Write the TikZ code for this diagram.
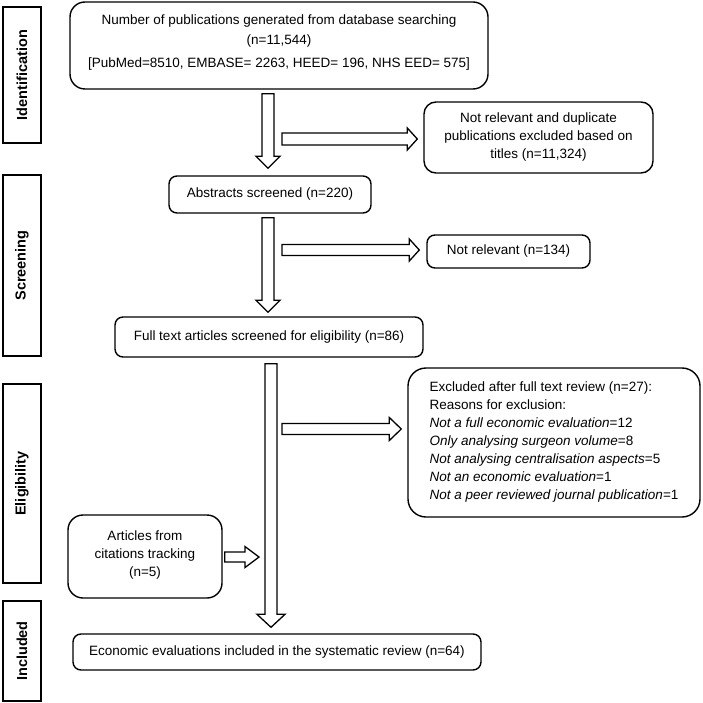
\documentclass[tikz,border=0pt]{standalone}
\usepackage{fontspec}
\setmainfont{Liberation Sans}
\usetikzlibrary{calc}
\tikzset{
  box/.style={draw, line width=1.4pt, rounded corners=8pt, align=center,
    font=\fontsize{13.5}{18}\selectfont, inner sep=0pt},
  stagebox/.style={draw, line width=1.5pt, rotate=90, inner sep=0pt,
    font=\fontsize{14.5}{18}\selectfont\bfseries, minimum height=38pt},
  blk/.style={draw, line width=1.3pt, fill=white, line join=miter},
}
% block arrow downwards: start, tip, shaft half width, head half width, head length
\newcommand\blkdown[5]{%
  \draw[blk] ($(#1)+(-#3,0)$) -- ($(#2)+(-#3,-#5)$) -- ($(#2)+(-#4,-#5)$) -- (#2)
    -- ($(#2)+(#4,-#5)$) -- ($(#2)+(#3,-#5)$) -- ($(#1)+(#3,0)$) -- cycle;}
% block arrow to the right
\newcommand\blkright[5]{%
  \draw[blk] ($(#1)+(0,-#3)$) -- ($(#2)+(-#5,-#3)$) -- ($(#2)+(-#5,-#4)$) -- (#2)
    -- ($(#2)+(-#5,#4)$) -- ($(#2)+(-#5,#3)$) -- ($(#1)+(0,#3)$) -- cycle;}
\begin{document}
\begin{tikzpicture}[x=1pt, y=-1pt]
\useasboundingbox (0,0) rectangle (702,703);

% stage labels
\node[stagebox, minimum width=136pt] (sid) at (22,75) {Identification};
\node[stagebox, minimum width=181pt] (ssc) at (22,265.5) {Screening};
\node[stagebox, minimum width=199pt] (sel) at (22,483.5) {Eligibility};
\node[stagebox, minimum width=100pt] (sin) at (22,651) {Included};

% boxes
\node[box, minimum width=418pt, minimum height=87pt, rounded corners=15pt] (src) at (279,45.5)
  {Number of publications generated from database searching\\[2pt]
   (n=11,544)\\[5pt]
   [PubMed=8510, EMBASE= 2263, HEED= 196, NHS EED= 575]\rule[-8pt]{0pt}{8pt}};
\node[box, minimum width=229pt, minimum height=71pt, rounded corners=12pt] (rel) at (538.5,137.5)
  {Not relevant and duplicate\\ publications excluded based on\\ titles (n=11,324)};
\node[box, minimum width=202pt, minimum height=37pt] (abs) at (270,194.5) {Abstracts screened (n=220)};
\node[box, minimum width=163pt, minimum height=33pt] (nr) at (508.5,251.5) {Not relevant (n=134)};
\node[box, minimum width=308pt, minimum height=40pt] (full) at (269,337)
  {Full text articles screened for eligibility (n=86)};
\node[box, minimum width=292pt, minimum height=149pt, rounded corners=18pt, align=left] (exc) at (554,442.5)
  {Excluded after full text review (n=27):\\
   Reasons for exclusion:\\
   \textit{Not a full economic evaluation}=12\\
   \textit{Only analysing surgeon volume}=8\\
   \textit{Not analysing centralisation aspects}=5\\
   \textit{Not an economic evaluation}=1\\
   \textit{Not a peer reviewed journal publication}=1};
\node[box, minimum width=154pt, minimum height=83pt, rounded corners=15pt] (cit) at (145,556.5)
  {Articles from\\ citations tracking\\ (n=5)\rule[-6pt]{0pt}{6pt}};
\node[box, minimum width=408pt, minimum height=36pt] (fin) at (277,652)
  {Economic evaluations included in the systematic review (n=64)};

% arrow end points
\coordinate (a1s) at ($(src.south)+(-11,4)$);
\coordinate (a1t) at ($(abs.north)+(-2,-7)$);
\coordinate (a2s) at ($(abs.south)+(-2,4)$);
\coordinate (a2t) at ($(full.north)+(-1,-4)$);
\coordinate (a3s) at ($(full.south)+(2,6)$);
\coordinate (a3t) at ($(fin.north)+(-6,-6)$);
\coordinate (h1s) at (282,139);
\coordinate (h1t) at ($(rel.west)+(-6,1.5)$);
\coordinate (h2s) at (282,250);
\coordinate (h2t) at ($(nr.west)+(-7,-1.5)$);
\coordinate (h3s) at (282,429);
\coordinate (h3t) at ($(exc.west)+(-6,-13.5)$);
\coordinate (h4s) at ($(cit.east)+(2,0.5)$);
\coordinate (h4t) at (259,557);

% block arrows
\blkdown{a1s}{a1t}{6}{12}{12}
\blkdown{a2s}{a2t}{6}{12}{12}
\blkdown{a3s}{a3t}{6}{14}{13}
\blkright{h1s}{h1t}{6}{11}{10}
\blkright{h2s}{h2t}{5.5}{11}{10}
\blkright{h3s}{h3t}{5.5}{11.5}{12}
\blkright{h4s}{h4t}{5}{10.5}{14}
\end{tikzpicture}
\end{document}
